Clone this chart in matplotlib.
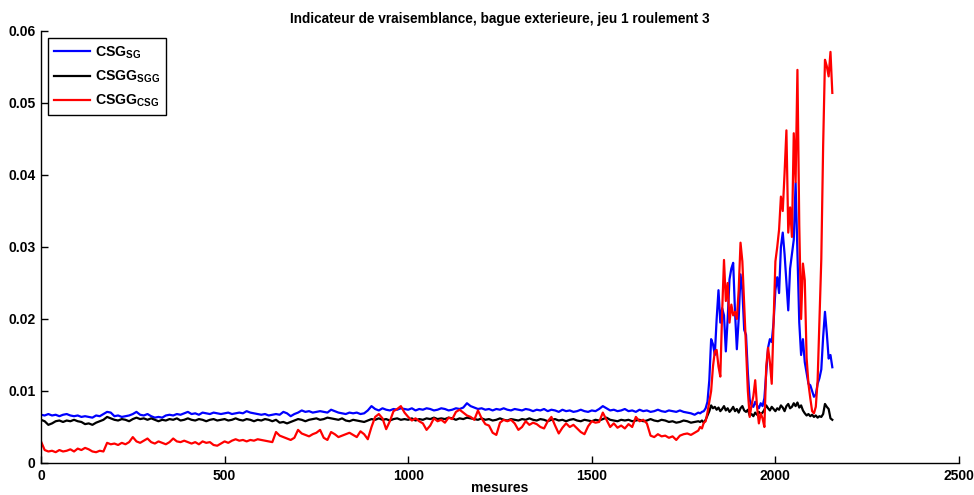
import numpy as np
import matplotlib
matplotlib.use("Agg")
import matplotlib.pyplot as plt

plt.rcParams['font.family'] = ['Liberation Sans', 'DejaVu Sans']
plt.rcParams['font.weight'] = 'bold'
plt.rcParams['mathtext.fontset'] = 'custom'
plt.rcParams['mathtext.bf'] = 'Liberation Sans:bold'
plt.rcParams['mathtext.rm'] = 'Liberation Sans:bold'

# measurement index: coarse grid on the quiet part, finer grid once the defect shows up
mesures_calme = np.arange(0, 1790, 10)
mesures_defaut = np.arange(1790, 2160, 5)

# CSG_SG indicator (blue)
csg_sg_calme = [
    0.0067, 0.0066, 0.0068, 0.0066, 0.0067, 0.0065, 0.0067, 0.0068, 0.0066, 0.0065,
    0.0066, 0.0064, 0.0065, 0.0064, 0.0063, 0.0066, 0.0065, 0.0068, 0.0071, 0.0070,
    0.0065, 0.0066, 0.0064, 0.0065, 0.0066, 0.0068, 0.0071, 0.0067, 0.0066, 0.0068,
    0.0065, 0.0063, 0.0064, 0.0063, 0.0066, 0.0067, 0.0066, 0.0068, 0.0067, 0.0069,
    0.0071, 0.0068, 0.0069, 0.0067, 0.0070, 0.0069, 0.0068, 0.0070, 0.0069, 0.0068,
    0.0069, 0.0070, 0.0068, 0.0069, 0.0070, 0.0069, 0.0072, 0.0070, 0.0069, 0.0068,
    0.0067, 0.0068, 0.0066, 0.0067, 0.0068, 0.0067, 0.0071, 0.0069, 0.0065, 0.0068,
    0.0070, 0.0073, 0.0071, 0.0072, 0.0070, 0.0071, 0.0072, 0.0071, 0.0070, 0.0074,
    0.0072, 0.0070, 0.0069, 0.0068, 0.0070, 0.0069, 0.0070, 0.0068, 0.0069, 0.0073,
    0.0079, 0.0075, 0.0073, 0.0076, 0.0074, 0.0073, 0.0075, 0.0074, 0.0076, 0.0075,
    0.0074, 0.0076, 0.0073, 0.0075, 0.0074, 0.0076, 0.0075, 0.0073, 0.0074, 0.0076,
    0.0075, 0.0073, 0.0074, 0.0076, 0.0075, 0.0077, 0.0083, 0.0079, 0.0077, 0.0075,
    0.0076, 0.0074, 0.0075, 0.0073, 0.0075, 0.0074, 0.0076, 0.0074, 0.0073, 0.0075,
    0.0074, 0.0073, 0.0075, 0.0074, 0.0072, 0.0074, 0.0073, 0.0075, 0.0072, 0.0074,
    0.0073, 0.0071, 0.0074, 0.0072, 0.0073, 0.0071, 0.0072, 0.0074, 0.0072, 0.0071,
    0.0073, 0.0072, 0.0075, 0.0079, 0.0076, 0.0073, 0.0074, 0.0072, 0.0073, 0.0075,
    0.0072, 0.0073, 0.0071, 0.0074, 0.0072, 0.0073, 0.0071, 0.0072, 0.0074, 0.0072,
    0.0071, 0.0073, 0.0072, 0.0071, 0.0073, 0.0071, 0.0070, 0.0069, 0.0067,
]
csg_sg_defaut = [
    0.0070, 0.0069, 0.0071, 0.0072, 0.0076, 0.0085, 0.0115, 0.0172, 0.0165, 0.0150,
    0.0200, 0.0240, 0.0195, 0.0215, 0.0205, 0.0155, 0.0200, 0.0255, 0.0270, 0.0278,
    0.0210, 0.0158, 0.0200, 0.0262, 0.0240, 0.0185, 0.0178, 0.0125, 0.0088, 0.0080,
    0.0078, 0.0085, 0.0080, 0.0076, 0.0083, 0.0079, 0.0090, 0.0125, 0.0160, 0.0172,
    0.0168, 0.0195, 0.0240, 0.0258, 0.0236, 0.0300, 0.0320, 0.0290, 0.0250, 0.0212,
    0.0270, 0.0290, 0.0310, 0.0389, 0.0290, 0.0195, 0.0150, 0.0172, 0.0140, 0.0125,
    0.0110, 0.0108, 0.0100, 0.0092, 0.0095, 0.0110, 0.0118, 0.0130, 0.0175, 0.0210,
    0.0180, 0.0145, 0.0150, 0.0133,
]

# CSGG_SGG indicator (black)
csgg_sgg_calme = [
    0.0060, 0.0058, 0.0053, 0.0055, 0.0058, 0.0059, 0.0057, 0.0059, 0.0058, 0.0060,
    0.0058, 0.0057, 0.0054, 0.0055, 0.0053, 0.0056, 0.0058, 0.0060, 0.0064, 0.0062,
    0.0060, 0.0059, 0.0061, 0.0060, 0.0058, 0.0061, 0.0063, 0.0061, 0.0062, 0.0060,
    0.0062, 0.0060, 0.0058, 0.0060, 0.0059, 0.0061, 0.0060, 0.0062, 0.0059, 0.0060,
    0.0062, 0.0060, 0.0059, 0.0061, 0.0060, 0.0058, 0.0060, 0.0061, 0.0059, 0.0060,
    0.0061, 0.0059, 0.0060, 0.0062, 0.0060, 0.0059, 0.0061, 0.0060, 0.0058, 0.0060,
    0.0059, 0.0061, 0.0060, 0.0058, 0.0060, 0.0056, 0.0057, 0.0055, 0.0057, 0.0059,
    0.0061, 0.0060, 0.0058, 0.0060, 0.0061, 0.0062, 0.0060, 0.0061, 0.0063, 0.0062,
    0.0061, 0.0060, 0.0062, 0.0059, 0.0058, 0.0060, 0.0059, 0.0058, 0.0057, 0.0059,
    0.0061, 0.0060, 0.0062, 0.0060, 0.0061, 0.0059, 0.0061, 0.0062, 0.0060, 0.0061,
    0.0060, 0.0062, 0.0059, 0.0061, 0.0060, 0.0062, 0.0061, 0.0063, 0.0061, 0.0062,
    0.0061, 0.0063, 0.0062, 0.0060, 0.0062, 0.0061, 0.0063, 0.0062, 0.0061, 0.0060,
    0.0062, 0.0060, 0.0061, 0.0059, 0.0060, 0.0062, 0.0060, 0.0059, 0.0061, 0.0060,
    0.0059, 0.0061, 0.0060, 0.0062, 0.0060, 0.0059, 0.0061, 0.0060, 0.0058, 0.0060,
    0.0061, 0.0059, 0.0060, 0.0058, 0.0060, 0.0061, 0.0059, 0.0058, 0.0060, 0.0059,
    0.0058, 0.0060, 0.0059, 0.0061, 0.0063, 0.0060, 0.0059, 0.0058, 0.0060, 0.0059,
    0.0060, 0.0058, 0.0059, 0.0060, 0.0058, 0.0059, 0.0061, 0.0059, 0.0058, 0.0060,
    0.0059, 0.0057, 0.0058, 0.0056, 0.0057, 0.0059, 0.0058, 0.0056, 0.0057,
]
csgg_sgg_defaut = [
    0.0058, 0.0057, 0.0059, 0.0056, 0.0060, 0.0066, 0.0072, 0.0080, 0.0076, 0.0078,
    0.0074, 0.0077, 0.0072, 0.0075, 0.0079, 0.0073, 0.0076, 0.0071, 0.0074, 0.0078,
    0.0072, 0.0075, 0.0070, 0.0076, 0.0079, 0.0073, 0.0071, 0.0074, 0.0066, 0.0068,
    0.0065, 0.0070, 0.0067, 0.0071, 0.0068, 0.0070, 0.0074, 0.0080, 0.0076, 0.0073,
    0.0078, 0.0075, 0.0072, 0.0076, 0.0074, 0.0080, 0.0077, 0.0072, 0.0079, 0.0082,
    0.0076, 0.0078, 0.0083, 0.0079, 0.0084, 0.0077, 0.0080, 0.0073, 0.0069, 0.0066,
    0.0068, 0.0065, 0.0067, 0.0064, 0.0066, 0.0063, 0.0065, 0.0064, 0.0068, 0.0082,
    0.0078, 0.0075, 0.0062, 0.0060,
]

# CSGG_CSG indicator (red)
csgg_csg_calme = [
    0.0030, 0.0018, 0.0016, 0.0017, 0.0015, 0.0018, 0.0016, 0.0017, 0.0019, 0.0016,
    0.0020, 0.0018, 0.0021, 0.0019, 0.0016, 0.0015, 0.0017, 0.0016, 0.0028, 0.0026,
    0.0027, 0.0025, 0.0028, 0.0026, 0.0029, 0.0036, 0.0030, 0.0028, 0.0031, 0.0034,
    0.0029, 0.0027, 0.0030, 0.0028, 0.0026, 0.0029, 0.0034, 0.0030, 0.0029, 0.0031,
    0.0029, 0.0027, 0.0029, 0.0026, 0.0030, 0.0028, 0.0029, 0.0025, 0.0024, 0.0027,
    0.0030, 0.0028, 0.0031, 0.0033, 0.0031, 0.0032, 0.0030, 0.0032, 0.0031, 0.0033,
    0.0032, 0.0031, 0.0030, 0.0029, 0.0043, 0.0038, 0.0036, 0.0034, 0.0032, 0.0035,
    0.0046, 0.0041, 0.0039, 0.0037, 0.0040, 0.0042, 0.0046, 0.0035, 0.0032, 0.0043,
    0.0040, 0.0036, 0.0038, 0.0040, 0.0042, 0.0039, 0.0036, 0.0044, 0.0040, 0.0033,
    0.0050, 0.0064, 0.0068, 0.0062, 0.0047, 0.0058, 0.0072, 0.0075, 0.0079, 0.0070,
    0.0064, 0.0059, 0.0062, 0.0058, 0.0055, 0.0046, 0.0052, 0.0062, 0.0058, 0.0060,
    0.0056, 0.0063, 0.0061, 0.0071, 0.0074, 0.0070, 0.0066, 0.0064, 0.0060, 0.0073,
    0.0062, 0.0054, 0.0052, 0.0042, 0.0039, 0.0056, 0.0060, 0.0058, 0.0060, 0.0055,
    0.0046, 0.0050, 0.0058, 0.0053, 0.0056, 0.0054, 0.0050, 0.0048, 0.0058, 0.0064,
    0.0052, 0.0041, 0.0049, 0.0055, 0.0050, 0.0053, 0.0048, 0.0043, 0.0040, 0.0051,
    0.0058, 0.0056, 0.0057, 0.0070, 0.0060, 0.0050, 0.0055, 0.0049, 0.0052, 0.0048,
    0.0054, 0.0050, 0.0064, 0.0058, 0.0060, 0.0055, 0.0038, 0.0036, 0.0040, 0.0037,
    0.0038, 0.0035, 0.0037, 0.0032, 0.0038, 0.0040, 0.0041, 0.0039, 0.0042,
]
csgg_csg_defaut = [
    0.0045, 0.0050, 0.0048, 0.0056, 0.0058, 0.0070, 0.0085, 0.0100, 0.0134, 0.0155,
    0.0157, 0.0134, 0.0120, 0.0210, 0.0282, 0.0225, 0.0250, 0.0195, 0.0220, 0.0205,
    0.0210, 0.0200, 0.0240, 0.0306, 0.0280, 0.0220, 0.0157, 0.0100, 0.0064, 0.0080,
    0.0093, 0.0115, 0.0078, 0.0055, 0.0069, 0.0062, 0.0050, 0.0134, 0.0160, 0.0140,
    0.0110, 0.0195, 0.0280, 0.0300, 0.0324, 0.0370, 0.0350, 0.0403, 0.0462, 0.0320,
    0.0355, 0.0314, 0.0458, 0.0390, 0.0546, 0.0330, 0.0200, 0.0277, 0.0254, 0.0146,
    0.0110, 0.0090, 0.0072, 0.0069, 0.0078, 0.0115, 0.0200, 0.0283, 0.0440, 0.0560,
    0.0551, 0.0537, 0.0571, 0.0514,
]

x = np.concatenate([mesures_calme, mesures_defaut])
csg_sg = np.concatenate([csg_sg_calme, csg_sg_defaut])
csgg_sgg = np.concatenate([csgg_sgg_calme, csgg_sgg_defaut])
csgg_csg = np.concatenate([csgg_csg_calme, csgg_csg_defaut])

fig = plt.figure(figsize=(9.74, 4.95), dpi=100)
ax = fig.add_axes([41 / 974, 1 - 463 / 495, 918 / 974, 432 / 495])

ax.plot(x, csg_sg, color=(0, 0, 1), lw=1.6, label=r'CSG$_{\mathbf{SG}}$')
ax.plot(x, csgg_sgg, color='black', lw=1.6, label=r'CSGG$_{\mathbf{SGG}}$')
ax.plot(x, csgg_csg, color=(1, 0, 0), lw=1.6, label=r'CSGG$_{\mathbf{CSG}}$')

ax.set_xlim(0, 2500)
ax.set_ylim(0, 0.06)
ax.set_xticks([0, 500, 1000, 1500, 2000, 2500])
ax.set_yticks([0, 0.01, 0.02, 0.03, 0.04, 0.05, 0.06])
ax.set_yticklabels(['0', '0.01', '0.02', '0.03', '0.04', '0.05', '0.06'])
ax.tick_params(direction='in', length=5, width=1, labelsize=10, pad=4)
for lab in ax.get_xticklabels() + ax.get_yticklabels():
    lab.set_fontweight('bold')

ax.spines['top'].set_visible(False)
ax.spines['right'].set_visible(False)
ax.spines['left'].set_linewidth(1)
ax.spines['bottom'].set_linewidth(1)

ax.set_title('Indicateur de vraisemblance, bague exterieure, jeu 1 roulement 3',
             fontsize=9.8, fontweight='bold', pad=6)
ax.set_xlabel('mesures', fontsize=10, fontweight='bold', labelpad=-1)

leg = ax.legend(loc='upper left', bbox_to_anchor=(0.0076, 0.984), borderaxespad=0,
                fancybox=False, framealpha=1, edgecolor='black',
                prop={'size': 10.2, 'weight': 'bold'}, handlelength=2.5,
                labelspacing=0.55, borderpad=0.45, handletextpad=0.35)
leg.get_frame().set_linewidth(1)

fig.savefig('out.png', dpi=100)
